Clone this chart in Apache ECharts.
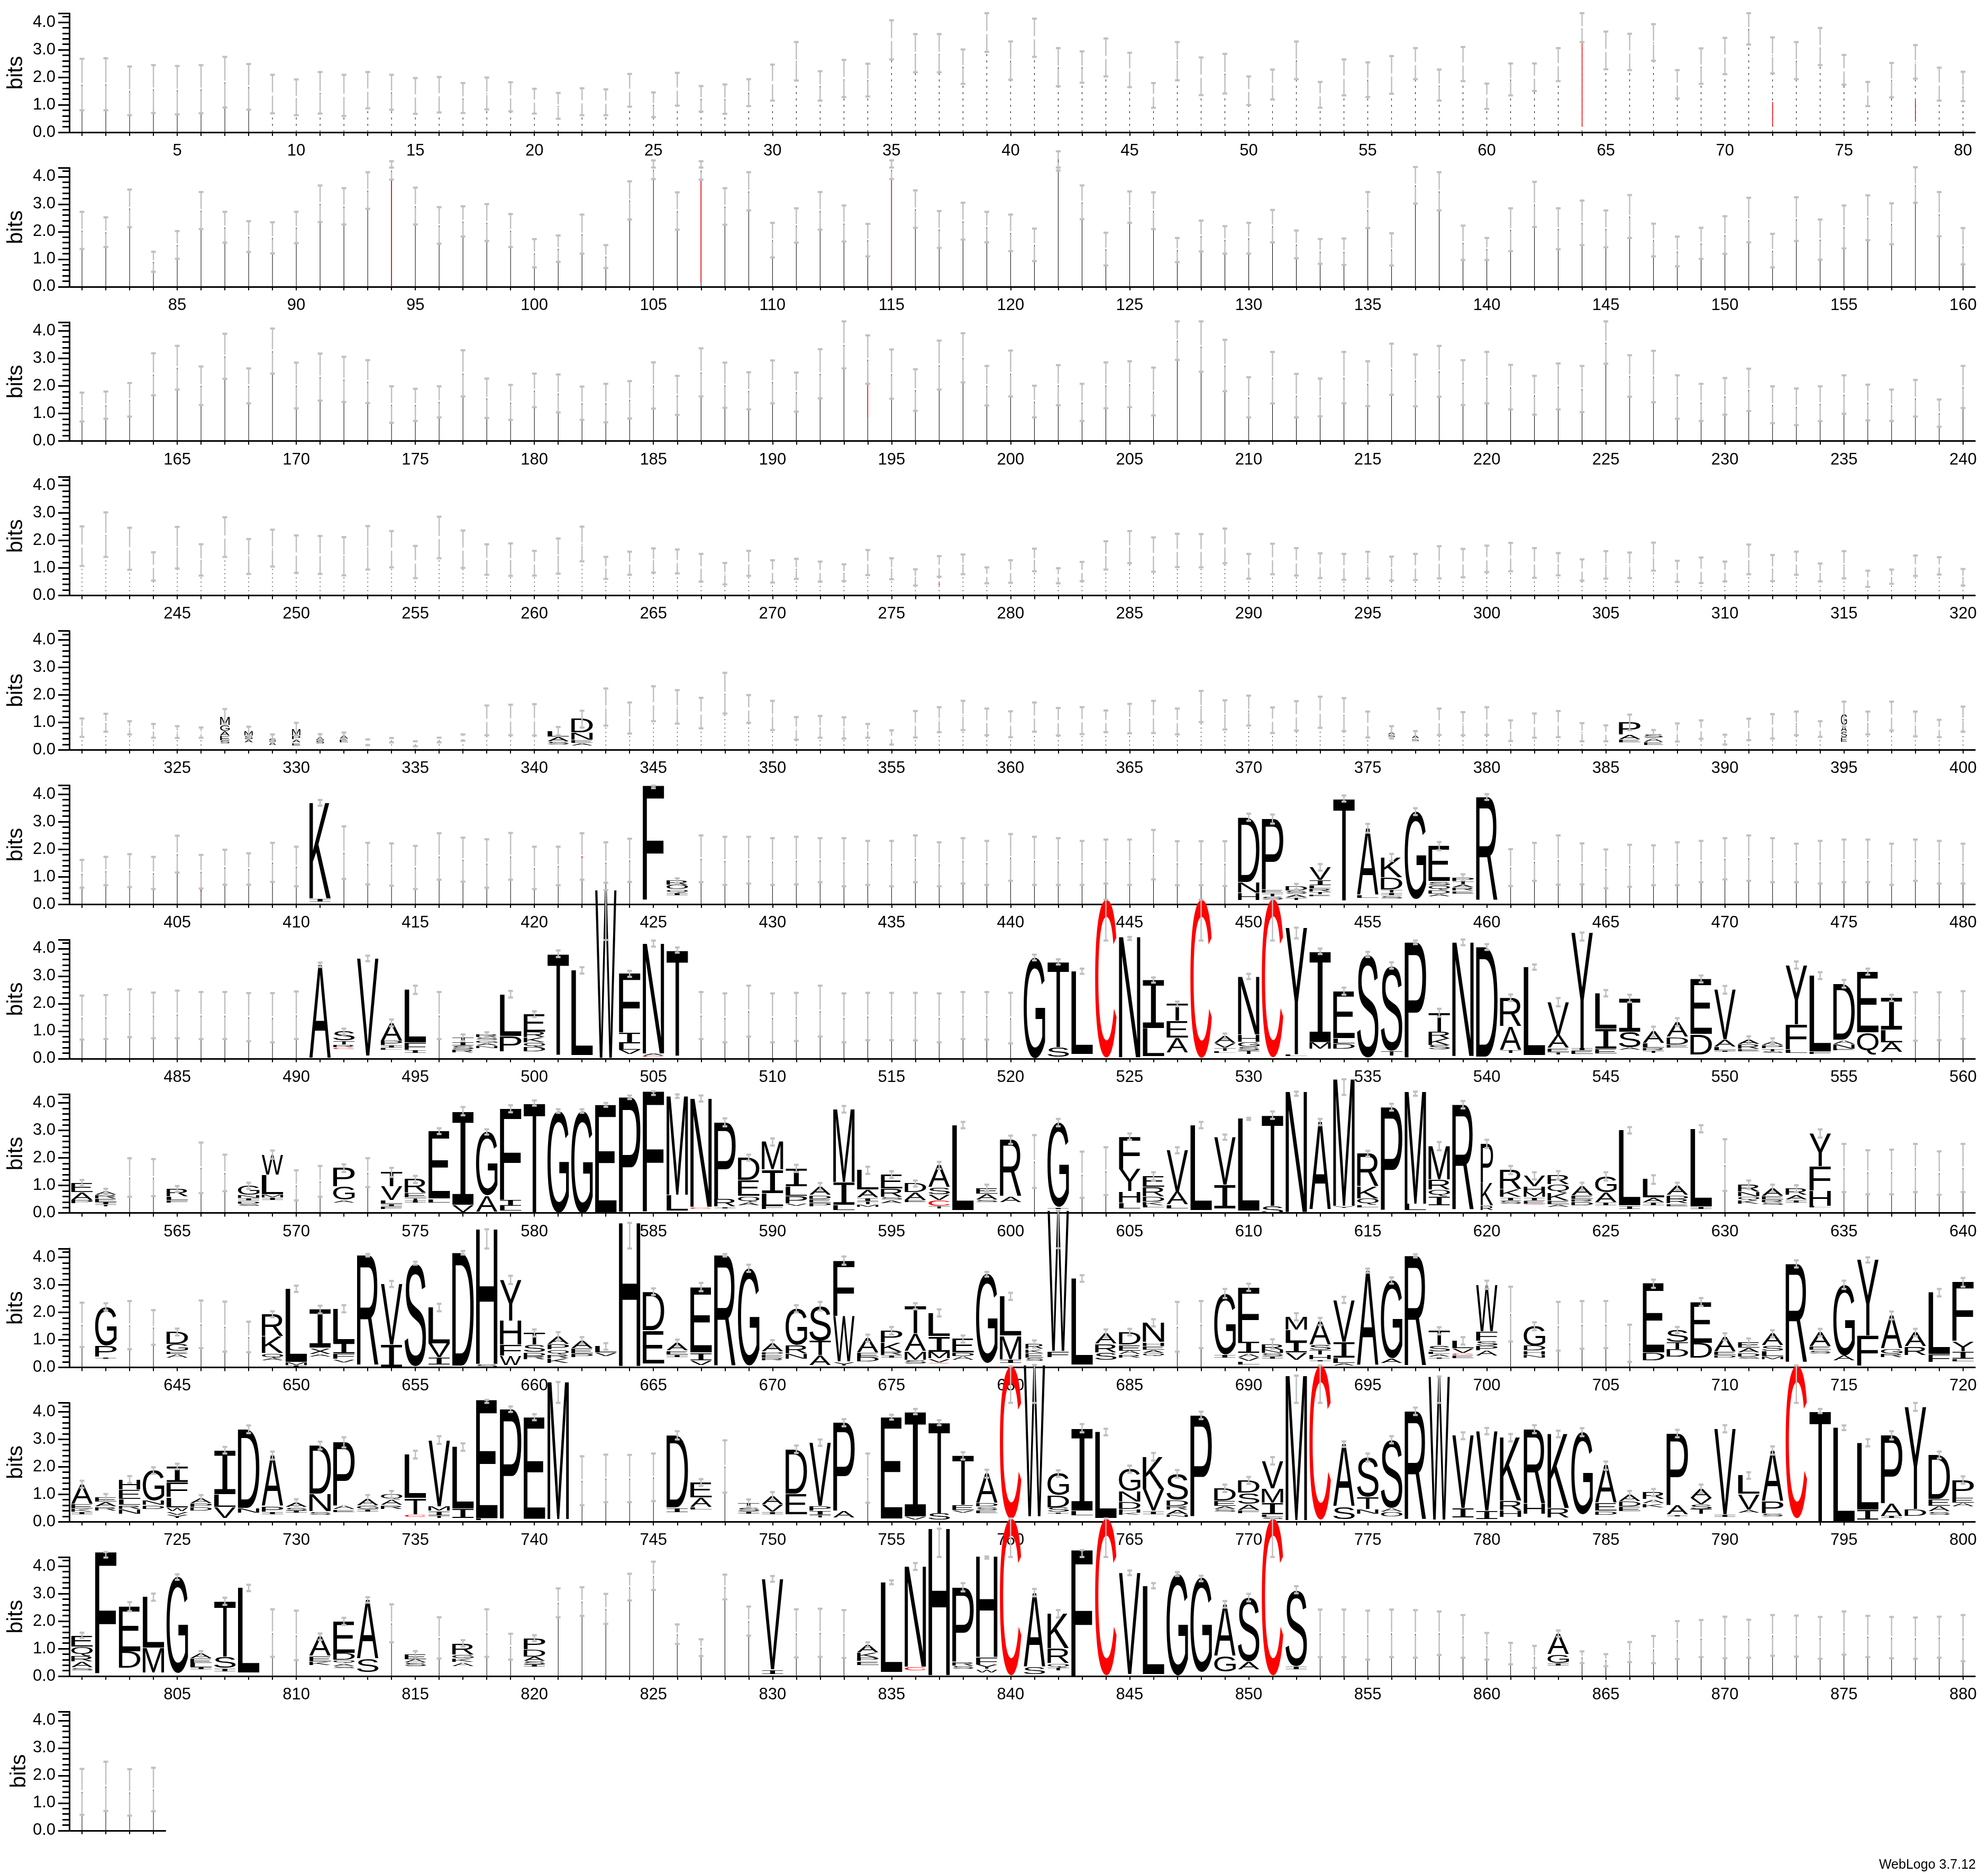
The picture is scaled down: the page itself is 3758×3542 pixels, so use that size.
<!DOCTYPE html>
<html><head><meta charset="utf-8">
<style>html,body{margin:0;padding:0;background:#fff}#c{width:3758px;height:3542px}</style>
<script src="https://cdn.jsdelivr.net/npm/echarts@6/dist/echarts.min.js"></script>
</head><body><div id="c"></div>
<script>
const hi1=[2.67,2.69,2.39,2.44,2.41,2.44,2.74,2.48,2.09,1.92,2.19,2.09,2.19,2.09,1.97,2.01,1.79,1.99,1.82,1.58,1.43,1.6,1.56,2.12,1.45,2.16,1.68,1.74,1.93,2.46,3.28,2.22,2.63,2.49,4.07,3.57,3.57,3.01,4.33,3.3,4.13,3.06,2.94,3.41,2.89,1.79,3.28,2.72,2.85,2.03,2.28,3.3,1.83,2.65,2.54,2.77,3.06,2.28,3.1,1.77,2.5,2.5,3.06,4.33,3.66,3.58,3.93,2.26,3.05,3.43,4.33,3.45,3.28,3.79,2.81,1.83,2.52,3.17,2.35,2.2];
const lo1=[.8,.8,.62,.7,.65,.69,.9,.82,.69,.62,.68,.59,.87,.82,.67,.72,.7,.83,.76,.68,.49,.62,.62,.93,.55,.97,.75,.67,.95,1.15,1.88,1.15,1.28,1.3,2.65,2.18,2.18,1.76,2.92,1.91,2.74,1.67,1.8,2.03,1.64,.89,1.89,1.35,1.41,.99,1.19,1.93,.89,1.34,1.28,1.4,1.93,1.15,1.86,.85,1.34,1.5,1.86,3.28,2.29,2.26,2.6,1.23,1.76,2.11,3.19,2.14,1.93,2.44,1.73,.95,1.27,1.95,1.15,1.13];
const hi2=[2.72,2.52,3.53,1.27,2.02,3.44,2.72,2.38,2.34,2.72,3.68,3.58,4.16,4.56,3.6,2.89,2.92,3,2.64,1.73,1.86,2.62,1.51,3.83,4.59,3.43,4.56,3.58,4.16,2.32,2.85,3.44,2.95,2.28,4.59,3.5,2.75,3.05,2.72,2.62,2.11,4.92,3.68,1.96,3.46,3.43,1.77,2.4,2.2,2.32,2.79,2.04,1.73,1.75,3.44,1.94,4.35,4.16,2.22,1.77,2.85,3.81,2.85,3.13,2.77,3.33,2.29,1.82,2.14,2.56,3.23,1.92,3.25,2.44,2.95,3.32,3.03,4.34,3.44,2.13];
const lo2=[1.37,1.44,2.16,.54,1.01,2.09,1.6,1.26,1.21,1.58,2.35,2.26,2.83,3.89,2.26,1.56,1.82,1.66,1.44,.7,.9,1.2,.68,2.44,3.91,2.07,3.89,2.25,2.77,1.06,1.6,2.07,1.64,1.1,3.91,2.14,1.41,1.71,1.61,1.29,.93,4.22,2.45,.77,2.32,2.09,.89,1.28,1.2,1.2,1.61,1.03,.83,.79,2.13,.77,3.02,2.77,.97,.97,1.29,2.17,1.36,1.51,1.43,1.77,1.1,.74,1.01,1.19,1.61,.7,1.66,.98,1.39,1.69,1.54,3.05,1.83,.81];
const hi3=[1.76,1.8,2.11,3.19,3.46,2.71,3.9,2.64,4.09,2.85,3.18,3.06,2.94,1.99,1.9,1.99,3.3,2.27,2.04,2.45,2.42,1.98,2.08,2.18,2.86,2.37,3.37,2.85,2.5,2.93,2.49,3.34,4.35,3.84,3.33,2.61,3.65,3.92,2.73,3.29,2.01,2.76,2.08,2.86,2.9,2.67,4.35,4.35,3.68,2.32,3.24,2.44,2.27,3.24,2.9,3.54,3.15,3.46,2.94,3.24,2.77,2.37,2.82,2.73,4.35,3.12,3.28,2.39,2.08,2.29,2.63,1.99,1.91,1.99,2.39,2.05,1.87,2.22,1.51,2.73];
const lo3=[.71,.81,.89,1.66,1.87,1.31,2.26,1.37,2.45,1.19,1.47,1.42,1.38,.66,.73,.86,1.62,.84,.77,1.23,1.04,.77,.68,.82,1.18,.95,1.62,1.21,1.15,1.37,1.07,1.55,2.64,2.08,1.54,1.1,1.87,2.13,1.29,1.62,.86,1.3,.73,1.19,1.23,.93,2.95,2.52,1.81,.86,1.37,.86,.9,1.37,1.27,1.68,1.26,1.61,1.31,1.37,1.15,.96,1.15,1.05,2.81,1.61,1.41,.81,.73,.96,1.09,.65,.58,.72,.99,.75,.73,.89,.52,1.2];
const hi4=[2.51,3.02,2.46,1.57,2.49,1.86,2.84,2.05,2.39,2.18,2.16,2.12,2.52,2.34,1.8,2.86,2.36,1.86,1.89,1.62,2.07,2.5,1.4,1.59,1.71,1.67,1.51,1.18,1.62,1.28,1.33,1.23,1.13,1.65,1.35,.95,1.43,1.49,1.02,1.28,1.7,.99,1.22,1.97,2.34,2.11,2.24,2.23,2.43,1.51,1.88,1.72,1.53,1.51,1.59,1.41,1.51,1.79,1.69,1.81,1.91,1.72,1.54,1.31,1.61,1.56,1.92,1.26,1.38,1.23,1.85,1.47,1.59,1.16,1.61,.9,.94,1.45,1.39,.96];
const lo4=[1.07,1.4,.93,.54,.98,.72,1.4,.78,1.05,.82,.78,.73,.94,1.02,.63,1.35,1,.75,.71,.72,.79,1.24,.6,.75,.83,.8,.5,.4,.71,.47,.6,.5,.52,.74,.59,.36,.68,.77,.44,.46,.88,.44,.52,.94,1.17,.86,1.03,1.02,1.17,.61,.77,.72,.63,.57,.61,.54,.56,.62,.66,.85,.88,.64,.73,.54,.61,.63,.9,.49,.45,.51,.77,.52,.75,.51,.62,.31,.42,.71,.76,.36];
const hi5=[1.14,1.31,1.04,.94,.86,.81,1.48,.84,.56,.98,.57,.63,.38,.43,.31,.44,.56,1.61,1.64,1.66,.83,1.42,2.23,1.72,2.31,2.17,1.89,2.8,1.99,1.78,1.19,1.23,1.18,.94,.71,1.41,1.55,1.78,1.5,1.4,1.72,1.52,1.55,1.43,1.67,1.78,1.5,2.14,1.8,1.97,1.54,1.77,1.93,1.88,1.39,.86,.68,1.5,1.37,1.55,1.07,1.32,1.41,.97,.89,1.28,.72,.96,1.07,.55,1.13,1.3,1.39,1.04,1.75,1.39,1.75,1.39,1.09,1.57];
const lo5=[.47,.66,.56,.44,.43,.44,.95,.51,.27,.51,.37,.41,.17,.27,.13,.27,.33,.53,.53,.52,.53,.81,.88,.59,1.04,.95,.78,1.32,.98,.72,.37,.44,.41,.44,.19,.45,.64,.72,.53,.46,.66,.52,.57,.64,.6,.61,.56,1.01,.74,.88,.61,.7,.8,.68,.45,.41,.36,.54,.53,.54,.32,.44,.46,.31,.31,.71,.4,.3,.4,.19,.35,.41,.53,.47,.85,.56,.7,.49,.46,.66];
const hi6=[1.61,1.72,1.82,1.72,2.49,1.79,1.98,1.85,2.23,2.09,3.79,2.83,2.23,2.21,2.12,2.58,2.42,2.36,2.59,2.09,2.09,2.58,2.25,2.38,4.31,.94,2.5,2.45,2.45,2.4,2.45,2.4,2.4,2.3,2.3,2.5,2.25,2.4,2.3,2.55,2.45,2.4,2.3,2.35,2.35,2.7,2.29,2.29,2.29,3.29,3.26,.74,1.46,3.95,2.92,1.83,3.49,2.26,1.09,4,2,2.23,2.5,2.21,1.99,2.16,2.14,2.25,2.3,2.4,2.5,2.4,2.2,2.3,2.35,2.35,2.2,2.35,2.3,2.2];
const lo6=[.6,.69,.62,.55,1.15,.57,.71,.71,.81,.65,3.58,.92,.72,.67,.55,.89,.82,.6,.89,.55,.69,.89,.78,.81,4.22,.76,.8,.7,.75,.7,.72,.8,.65,.7,.65,.8,.65,.75,.7,.85,.7,.7,.7,.75,.7,.9,.69,.69,.66,3.03,2.93,.53,1.22,3.73,2.6,1.57,3.24,1.96,.87,3.79,.66,.85,.71,.72,.58,.63,.69,.69,.8,.9,.85,.8,.8,.75,.8,.8,.7,.85,.75,.75];
const hi7=[2.29,2.31,2.52,2.4,2.47,2.42,2.42,2.38,2.38,2.44,3.49,1.09,3.74,1.42,2.65,2.42,.88,.96,2.46,1.72,3.93,3.32,6.13,3.19,4.29,4.04,2.42,2.37,2.65,2.37,2.39,2.65,2.37,2.39,2.39,2.39,2.37,2.42,2.42,2.39,3.78,3.61,3.27,5.78,4.42,2.95,2.07,5.78,.91,3.08,5.8,4.76,4,2.58,3.88,3.5,4.29,1.81,4.33,4.16,2.33,3.42,2.2,4.58,2.49,2.32,1.16,1.47,3.02,2.64,.81,.74,3.53,3.14,2.86,3.27,2.32,2.41,2.41,2.45];
const lo7=[.69,.71,.78,.74,.74,.71,.71,.63,.59,.71,3.33,.87,3.54,1.17,2.35,.71,.64,.78,2.22,1.51,3.69,3.09,4.31,2.97,4.07,3.85,.71,.59,.8,.59,.64,.8,.59,.67,.67,.66,.59,.71,.69,.55,3.57,3.42,3.08,4.29,4.31,2.76,1.9,4.29,.72,2.89,4.29,4.37,3.8,2.32,3.69,3.27,4.16,1.52,4.12,3.95,2.09,3.23,1.9,4.29,2.26,2.05,.8,1.18,2.77,2.36,.53,.49,3.27,2.89,2.58,3.05,2.09,.65,.67,.72];
const hi8=[1.2,.88,1.99,1.96,.98,2.56,2.12,1.1,2.27,1.55,1.71,1.77,1.99,1.64,1.35,3.08,3.85,3.04,3.92,4.09,3.77,3.77,4,4.27,4.42,4.31,4.27,3.44,2.12,2.71,1.75,1.09,3.89,1.68,1.52,1.18,1.86,3.31,1.03,2.81,2.83,3.42,2.23,2.39,2.89,1.48,2.39,3.31,2.85,3.46,3.69,4.41,3.42,4.86,2.26,3.97,4.41,2.58,4.07,2.66,1.71,1.48,1.52,1.1,1.48,3.12,1.37,1.1,3.19,2.68,1.18,1.03,1.01,3.04,2.51,2.28,2.3,2.51,2.24,2.51];
const lo8=[.98,.66,.59,.61,.76,.72,.79,.87,1.97,.46,.59,1.49,.94,1.31,1.09,2.87,3.55,2.85,3.66,3.9,3.64,3.64,3.86,4.14,4.29,4.18,4.05,3.15,1.9,2.45,1.49,.83,3.65,1.42,1.27,.96,1.6,3.08,.79,2.51,.91,3.15,.55,.65,2.66,1.18,2.17,3.08,2.66,3.38,3.42,4.26,3.19,4.29,2.05,3.72,4.26,2.28,3.8,2.36,1.41,1.22,1.22,.84,1.18,2.89,1.06,.84,2.93,.8,.87,.76,.76,2.74,.76,.68,.68,.76,.66,.76];
const hi9=[2.35,2.33,2.41,2.08,1.41,2.43,2.39,1.66,2.04,2.97,2.24,2.26,4.12,3.14,3.84,2.31,4.23,5.02,3.33,1.38,1.28,1.1,.88,5.25,2.87,1.01,3.07,4.12,3.73,.99,2.26,2.38,4.03,1.19,1.47,2.33,2.11,1.16,3.47,2.71,.98,5.7,3.35,1.38,1.4,1.75,2.38,2.41,2.85,3.04,1.02,1.97,1.8,2.56,3.59,3.27,4.11,1.46,1.1,3.15,2.93,1.64,2.38,2.41,2.41,1.55,3.19,1.47,2.52,1.24,1.05,1.35,3.89,1.4,3.15,4,2.03,1.4,2.85,3.25];
const lo9=[.74,2.07,.66,.82,1.16,.7,.57,.55,1.82,2.74,1.96,2,4.03,2.92,3.73,2.04,4.1,4.32,3.03,1.12,.97,.86,.64,4.32,2.63,.75,2.77,4.03,3.47,.74,2,2.07,3.73,.93,1.19,2.11,1.85,.9,3.3,2.45,.72,4.33,3.11,1.09,1.16,1.49,.57,.7,2.52,2.78,.68,1.71,1.53,2.34,3.44,3.04,4,1.2,.83,2.85,.94,1.35,.61,.68,.7,.2,2.89,1.24,2.23,.98,.79,1.09,3.63,1.13,2.85,3.81,1.74,1.13,2.58,2.93];
const hi10=[1.49,1.01,1.66,1.98,2.11,.97,2.72,3.5,2.55,.82,2.91,3.07,.97,1.12,2.58,3.11,2.85,4.43,4.19,3.91,5.08,2.38,2.44,2.43,2.48,3.29,1.55,2.96,.81,1.08,2.77,2.99,3.73,2.48,3.89,4.1,3.69,2.53,1.89,5.65,5.7,1.87,3.55,3.38,2.04,2.5,1.88,4,1.35,1.63,2.35,5.31,5.68,2.92,2.48,3.11,4.15,5.28,3.25,3.41,3.19,3.51,3.31,3.4,2.19,1.12,1.19,3.34,1.35,3.51,1.8,2.74,5.68,4.1,3.5,3,3.29,4.32,2.55,1.65];
const lo10=[1.23,.75,1.41,1.74,1.91,.74,2.48,3.22,2.26,.57,2.63,2.7,.68,.86,2.3,2.83,2.58,4.32,3.99,3.69,4.32,.6,.71,.71,.75,2.99,1.3,1.06,.55,.79,2.5,2.76,3.47,.69,3.71,3.91,3.51,2.26,1.6,4.32,4.32,1.63,3.25,3.14,1.78,2.22,1.6,3.73,1.08,1.38,2.08,4.32,4.32,2.72,2.19,2.85,3.88,4.32,3,3.18,2.92,3.22,3.07,3.11,1.89,.82,.93,3.07,1.04,3.25,1.56,2.44,4.32,3.95,3.33,2.74,2.99,4.03,2.3,1.38];
const hi11=[1.58,4.51,2.69,3,3.7,.91,2.85,3.32,2.43,2.38,1.55,2.12,2.87,2.61,.91,2.14,1.31,2.43,1.54,1.49,3.19,3.23,2.99,3.72,4.16,1.88,1.34,3.69,2.53,3.64,2.43,2.45,2.4,1.23,3.48,4.11,5.36,3.38,4.35,5.73,3.17,2.4,4.58,5.73,3.84,3.38,3.78,3.65,2.73,2.99,5.73,3.27,2.42,2.42,2.38,2.42,2.4,2.35,2.22,1.57,1.21,1.1,1.66,.9,.8,1.24,1.46,2,2.04,2.16,2.05,2.22,2.2,2.15,2.35,2.19,2.15,2.13,2.16,2.22];
const lo11=[1.38,4.31,2.36,2.74,3.5,.7,2.59,3.09,.7,.58,1.31,1.86,2.67,1.23,.66,.64,1.07,.7,.6,1.27,2.14,2.19,1.9,2.75,3.13,1.17,.73,2.79,1.47,3.43,.68,.7,.66,1.05,3.34,3.86,4.33,3.08,4.27,4.33,2.9,2.13,4.33,4.33,3.67,3.19,3.64,3.45,2.49,2.72,4.33,3.01,.69,.69,.6,.69,.67,.77,.67,.6,.43,.3,1.43,.47,.36,.51,.47,.62,.69,.65,.67,.74,.71,.63,.78,.69,.65,.63,.67,.54];
const hi12=[2.24,2.5,2.23,2.28];
const lo12=[.57,.71,.54,.7];
const overflowCapPositions=[94,105,107,115,122];
const overflowCapBits=4.33;
const stacks5={327:'M.3 G.2 A.15 E.15 S.1',328:'M.15 S.12 A.1',329:'S.12 A.1',330:'M.22 P.12 A.1 E.08',331:'A.12 S.1',332:'A.12 E.1',341:'L.2 A.14 S.1',342:'D.48 N.24 E.1 A.08',376:'A.08 S.08',377:'A.1 S.08',386:'P.44 A.15 E.1',387:'S.12 A.12 E.1',395:'G.4 A.2 S.2 E.15'};
const stacks6={411:'K3.47 I.1',425:'F4.14',426:'R.14 O.14 Q.1 I.08',450:'D2.35 N.37 H.24',451:'P2.56 E.1 T.1 S.1',452:'D.14 S.1 A.1 T.08',453:'V.46 I.16 L.1 R.1 T.08 E.05',454:'T3.7',455:'A2.41 L.1',456:'K.72 D.42 T.1 I.08 S.08',457:'G3.18',458:'E1.27 S.13 Q.15 D.12 A.08',459:'P.13 T.1 A.1 R.1 E.08',460:'R3.76'};
const stacks7={491:'A3.4',492:'S.32 T.13 R.08 C.05',493:'V3.53',494:'A.64 P.14 I.08 L.05',495:'L1.91 F.25 I.1',497:'T.14 I.12 S.12 R.1',498:'R.09 S.08 G.08 A.08 N.07',499:'L1.51 P.55',500:'E.63 R.19 K.16 Q.15 D.14',501:'T3.67',502:'L3.07',503:'W6.1',504:'F2.13 I.37 L.21 V.15',505:'N3.99 A.06 C.04',506:'T3.84',521:'G3.66',522:'T3.1 S.33',523:'L3',524:'C5.74',525:'N4.37',526:'I1.75 L1',527:'T.61 E.59 A.53',528:'C5.75',529:'A.24 V.15 T.1 L.05',530:'N2.1 H.25 G.15 S.12 T.12',531:'C5.75',532:'Y4.6 L.05',533:'I3.3 M.22',534:'E1.71 L.17 D.17',535:'S3.74',536:'S3.1 T.15',537:'P4.18',538:'T.68 R.24 K.21 S.14',539:'N4.13',540:'D3.98',541:'R1.02 A.85 T.1',542:'L3.2',543:'V1.18 A.46 E.12 T.08',544:'Y4.2 I.06 E.12',545:'L1.28 I.72 E.14',546:'I1.2 S.55 A.08',547:'A.41 L.15 R.08 T.07',548:'A.53 D.25 E.1',549:'E2 D.72',550:'V1.79 A.25 L.11 I.05',551:'A.14 R.15 E.08',552:'A.12 P.1 T.08 S.05',553:'Y2.15 F.88 L.13',554:'L2.75 F.08',555:'D2.03 A.13 N.15 E.05',556:'E2.2 Q.8',557:'I1.16 L.43 A.34'};
const stacks8={561:'E.33 A.26 P.11',562:'A.11 R.11 E.11 I.06 T.05',565:'R.26 L.11 F.08',568:'G.32 N.1 I.08 D.08 S.06',569:'W.72 L.69 M.1 I.07',572:'P.65 G.48 A.08',574:'T.51 V.48 L.11 I.08 F.06',575:'R.49 E.15 T.08 I.06',576:'E2.45 L.13',577:'I3.4 V.25',578:'G2.3 A.57',579:'F3.3 I.2 L.16',580:'T4',581:'G3.7',582:'G3.72',583:'E3.9',584:'P4.16',585:'F4.36',586:'M3.58 L.56',587:'N3.93 C.06',588:'P2.78 R.26 I.05',589:'D.8 E.57 Q.2 A.1',590:'M1 I.83 L.44 F.11',591:'I.65 L.33 P.24 V.07',592:'A.3 D.13 E.11 P.11',593:'M2.64 I.81 L.18',594:'L.7 A.27 I.1 T.1 M.07',595:'E.5 R.29 S.08 A.1',596:'D.31 A.26 E.07',597:'A.79 S.24 V.19 C.19 T.07',598:'L3.08',599:'E.2 A.2 S.08',600:'R2.05 A.2',602:'G3.06 I.05',605:'F1.16 Y.8 H.4 L.19',606:'E.38 R.32 D.17 K.11 L.06',607:'V1.49 A.46 L.12',608:'L3.08',609:'V1.72 I.85',610:'L3.34',611:'T3.29 S.26',612:'N4.37',613:'A3.19',614:'M4.6 Y.05',615:'R1.18 K.42 Q.21 L.08',616:'P3.73',617:'M4.07 L.22',618:'M1.21 R.34 Q.23 I.3',619:'R3.82',620:'P1.41 K.8 R.15',621:'R.69 K.27 I.1 S.11',622:'V.38 H.19 M.16 I.1 E.1 C.03',623:'R.32 Q.29 K.27 E.11 A.08',624:'A.32 E.11 R.08 D.11',625:'G.57 A.34 I.1',626:'L2.73 I.1',627:'L.65 A.15 I.1',628:'A.31 D.13 R.14 E.08',629:'L2.82 I.08',631:'R.24 N.15 Q.12 K.11',632:'A.27 E.11 R.08 S.08',633:'R.23 A.15 I.08',634:'Y1.18 F.87 H.53 L.05'};
const stacks9={642:'G1.4 P.39 I.05',645:'D.43 G.24 E.08 A.12',649:'R.8 K.59 Q.15 A.08',650:'L2.65 M.1 I.08',651:'I1.39 X.2 A.08',652:'L1.23 I.37 F.18 V.1',653:'R4',654:'V2.19 I.81',655:'S3.74',656:'L1.3 V.49 I.25',657:'D4.1',658:'H4.89 S.1',659:'Y1.48 H.85 F.38 W.33',660:'T.41 S.25 D.13 R.11',661:'A.28 P.17 Q.15 R.13 K.15',662:'A.28 E.18 P.11',663:'L.22 V.11',664:'H5.2',665:'D1.39 E1.19',666:'A.26 E.13 I.08',667:'E2.37 I.27 V.15',668:'R4.03',669:'G3.53',670:'A.29 P.08 E.1 R.08',671:'G1.31 R.3 N.16',672:'S1.25 T.51 A.35',673:'F2 W1.65 Y.13',674:'A.51 E.15 D.15',675:'P.41 K.33 R.11 I.06',676:'T.99 A.62 M.29 S.12',677:'L.84 I.55 M.22 V.12 C.03',678:'E.48 D.12 A.12',679:'G3.24',680:'L1.42 M.84 I.12',681:'R.18 K.13 E.15 S.1',682:'W5.1 F.2',683:'L3.12',684:'A.37 R.3 S.26',685:'D.45 E.2 A.11 R.1',686:'N.69 H.13 E.11 A.1 Q.1',689:'G2.21 I.1',690:'F1.98 I.39 A.13 V.12 L.1',691:'R.2 N.11 S.09 I.07',692:'M.46 L.42 I.38 V.24',693:'A.83 S.18 T.15 H.15 I.05',694:'V1.51 I.57 L.17 A.08',695:'A3.44',696:'G2.83 A.15',697:'R4',698:'T.52 S.2 L.08 A.08 I.05',699:'L.26 V.15 C.06 E.1',700:'W1.68 F.33 S.15 P.15 A.18',702:'G.7 D.16 H.13 N.1',707:'E2.5 D.26',708:'S.43 T.24 D.26',709:'E1.48 D.53',710:'A.52 E.12 D.08',711:'E.2 A.15 D.13 S.06',712:'A.41 S.18 L.18 M.1',713:'R3.58',714:'A.5 E.11 S.11',715:'G2.56 A.17',716:'Y2.75 F1.07',717:'A1.2 G.16 R.11',718:'A.5 R.29',719:'L2.23 F.27',720:'F2.13 Y.35 I.26 L.07'};
const stacks10={721:'A.7 E.15 K.1 I.08',722:'E.15 A.15 R.13',723:'H.35 E.33 L.2 R.13 N.15',724:'G1.08 N.14 D.13',725:'I.57 F.52 L.35 W.13 V.1 Y.11',726:'A.17 P.13 D.11',727:'I1.59 L.44 V.4',728:'D2.86 N.15',729:'A1.84 P.17 I.08',730:'A.15 S.11 I.06',731:'D1.74 N.62 S.11',732:'P2.28 A.13 E.08',733:'A.22 G.13 I.06',734:'Q.18 A.18 R.12',735:'L1.57 T.58 C.08',736:'V2.4 M.15 I.15 T.08',737:'L2.23 I.32',738:'E4.3 L.05',739:'P3.97',740:'E3.69',741:'M4.98',746:'D2.62 I.15',747:'E.53 A.33 L.07',749:'T.15 S.12 I.08',750:'A.3 V.24 I.08',751:'D1.61 E.74',752:'V2.3 P.14 I.15 T.07',753:'P3.2 A.22',755:'E3.68',756:'I3.81 V.1',757:'T3.29 S.22',758:'T1.78 E.17 V.08',759:'A1.06 D.11 S.1 E.1',760:'C5.55',761:'W5.5',762:'G.78 D.42 S.15 I.05',763:'I2.99 L.15',764:'L3.12',765:'G.79 N.37 D.24 H.11 K.07',766:'K1.16 V.78 I.1',767:'S.94 D.19 R.12 A.15 N.08',768:'P3.66',769:'D.44 E.18 A.09 S.08',770:'D.44 S.39 A.2 F.1',771:'V.99 M.5 I.41 L.08 S.05',772:'M5.25',773:'C5.6',774:'A2.26 S.44',775:'S1.43 T.42 N.15',776:'S2.47 A.12 O.16',777:'R3.94',778:'W5.2',779:'V2.63 I.32',780:'V2.89 I.28',781:'K2.28 R.33 H.22',782:'R2.7 H.36',783:'K2.69 R.33',784:'G2.98',785:'A1.36 E.26 D.12',786:'A.22 D.17 E.15',787:'R.24 A.13 K.12',788:'P2.59 A.33 I.05',789:'A.32 V.21 S.16 T.16',790:'V3.11 I.07',791:'L.66 V.55 A.1',792:'A1.84 P.42 S.1',793:'C5.55',794:'T4',795:'L3.39',796:'L2.42 I.35',797:'P2.46 A.44 I.07',798:'Y3.71 D.22',799:'D1.6 E.22 A.18 S.11',800:'P.64 E.16 A.11'};
const stacks11={801:'E.4 Q.31 R.19 A.2 S.08',802:'F4.4',803:'E1.62 D.58',804:'L1.84 M.88',805:'G3.49',806:'A.16 E.14 L.14 I.06',807:'T2 S.4 I.1',808:'L3.07',811:'A.69 E.18 K.12',812:'E1.14 D.24 Q.1 A.08 S.06',813:'A2.13 S.47',815:'E.16 A.11 S.12',817:'R.4 G.12 K.12 A.12',820:'P.4 D.24 A.14 S.12 I.06',830:'V3.28 I.15',834:'A.28 K.16 P.11 E.12',835:'L3.26',836:'N3.64 C.12',837:'H5.32',838:'P2.69 R.13 S.1',839:'H3.65 F.25 Y.15 W.1',840:'C5.7',841:'A2.69 S.25',842:'K1.25 R.52 Q.13 T.1',843:'F4.56',844:'C5.7',845:'V3.68',846:'L3.2',847:'G3.68',848:'G3.41',849:'A1.87 G.55',850:'S2.32 A.26',851:'C5.7',852:'S2.77 I.1',863:'A.74 G.3 I.08'};
const occupancy={327:.4,328:.35,329:.3,330:.35,331:.35,332:.35,376:.3,377:.3,387:.8,395:.25,620:.52,681:.75};
const redTraces={64:[.2,3.4],72:[.2,1.1],78:[.38,1.15],94:[0,3.96],107:[.15,3.96],115:[0,3.96],194:[.86,2.92],277:[.36,.45],406:[.45,.55],422:[1.6,1.75]};
const hiRows=[hi1,hi2,hi3,hi4,hi5,hi6,hi7,hi8,hi9,hi10,hi11,hi12];
const loRows=[lo1,lo2,lo3,lo4,lo5,lo6,lo7,lo8,lo9,lo10,lo11,lo12];
const stackRows=[{},{},{},{},stacks5,stacks6,stacks7,stacks8,stacks9,stacks10,stacks11,{}];
const yTickMajor=1, yMax=4.32, perRow=80;

const bitPx=52, rowStep=291.8, firstBase=250, leftEdge=132.5, bandPx=45.01;
const sans='"Liberation Sans"', mono='"Liberation Mono"';
const mc=document.createElement('canvas').getContext('2d');
const inkCache={};
function ink(L){
  if(inkCache[L])return inkCache[L];
  const family=L==='I'?mono:sans;
  mc.font='200px '+family; mc.textAlign='left'; mc.textBaseline='middle';
  const m=mc.measureText(L);
  return inkCache[L]={font:'200px '+family,left:-m.actualBoundingBoxLeft,right:m.actualBoundingBoxRight,top:-m.actualBoundingBoxAscent,bottom:m.actualBoundingBoxDescent};
}
function stackTop(h,l){return l>=4.2?h:(h+l)/2;}
function parseStack(s){return s.split(' ').map(t=>({L:t[0],h:parseFloat(t.slice(1))}));}

function buildRow(r){
  const hi=hiRows[r],lo=loRows[r],st=stackRows[r],n=hi.length,first=r*perRow+1;
  const letters=[],thin=[],bars=[];
  for(let i=0;i<n;i++){
    const pos=first+i,top=stackTop(hi[i],lo[i]),s=st[pos];
    bars.push({v:[i,lo[i],hi[i]],isThin:!s,extra:overflowCapPositions.includes(pos)});
    if(s){
      let y=top;
      parseStack(s).forEach(p=>{
        letters.push({v:[i,y-p.h,y],L:p.L,frac:(occupancy[pos]||.9)});
        y-=p.h+.02;
      });
    }else{
      thin.push({v:[i,0,top],red:redTraces[pos]||null,dash:(r===0&&i>=8)?[4,8]:((r===3||r===4)?[2,6]:null)});
    }
  }
  return {letters,thin,bars};
}
function letterSeries(items,g){return{type:'custom',xAxisIndex:g,yAxisIndex:g,clip:false,silent:true,z:3,animation:false,
  data:items.map(d=>d.v),encode:{x:0,y:[1,2]},
  renderItem(p,api){
    const d=items[p.dataIndex],c=api.coord([d.v[0],d.v[2]]),b=api.coord([d.v[0],d.v[1]]);
    const w=api.size([1,0])[0]*d.frac,h=b[1]-c[1],g0=ink(d.L);
    const sx=w/(g0.right-g0.left),sy=h/(g0.bottom-g0.top);
    return{type:'text',x:c[0]-w/2-g0.left*sx,y:c[1]-g0.top*sy,scaleX:sx,scaleY:sy,silent:true,
      style:{text:d.L,font:g0.font,fill:d.L==='C'?'#ff0000':'#000000',align:'left',verticalAlign:'middle',x:0,y:0}};
  }};}
function thinSeries(items,g){return{type:'custom',xAxisIndex:g,yAxisIndex:g,clip:false,silent:true,z:2,animation:false,
  data:items.map(d=>d.v),encode:{x:0,y:[1,2]},
  renderItem(p,api){
    const d=items[p.dataIndex],a=api.coord([d.v[0],d.v[1]]),b=api.coord([d.v[0],d.v[2]]);
    const ch=[{type:'line',shape:{x1:a[0],y1:a[1],x2:b[0],y2:b[1]},style:{stroke:'#000',lineWidth:1,lineDash:d.dash||undefined}}];
    if(d.red){const q=api.coord([d.v[0],d.red[0]]),t=api.coord([d.v[0],d.red[1]]);
      ch.push({type:'line',shape:{x1:q[0],y1:q[1],x2:t[0],y2:t[1]},style:{stroke:'#ff0000',lineWidth:1.5}});}
    return{type:'group',children:ch};
  }};}
function barSeries(items,g){return{type:'custom',xAxisIndex:g,yAxisIndex:g,clip:false,silent:true,z:4,animation:false,
  data:items.map(d=>d.v),encode:{x:0,y:[1,2]},
  renderItem(p,api){
    const d=items[p.dataIndex],lo=api.coord([d.v[0],d.v[1]]),hi=api.coord([d.v[0],d.v[2]]),x=lo[0];
    const fill={fill:'#c0c0c0'},ch=[];
    const seg=(y0,y1)=>ch.push({type:'rect',shape:{x:x-1.25,y:y0,width:2.5,height:y1-y0},style:fill});
    if(d.isThin){const m=(lo[1]+hi[1])/2;seg(hi[1],m-3);seg(m+3,lo[1]);}else seg(hi[1],lo[1]);
    const cap=y=>ch.push({type:'rect',shape:{x:x-4.5,y:y-2,width:9,height:4},style:fill});
    cap(hi[1]);cap(lo[1]);
    if(d.extra)cap(api.coord([d.v[0],overflowCapBits])[1]);
    return{type:'group',children:ch};
  }};}

const grid=[],xAxis=[],yAxis=[],series=[];
hiRows.forEach((h,r)=>{
  const base=firstBase+rowStep*r,first=r*perRow+1;
  grid.push({left:leftEdge,top:base-yMax*bitPx,width:bandPx*h.length,height:yMax*bitPx,containLabel:false,outerBoundsMode:'none'});
  xAxis.push({type:'category',gridIndex:r,boundaryGap:true,data:h.map((_,i)=>String(first+i)),
    axisLine:{show:true,onZero:false,lineStyle:{color:'#000',width:3}},
    axisTick:{show:true,alignWithLabel:true,interval:0,length:7,lineStyle:{color:'#000',width:2}},
    axisLabel:{show:true,margin:20,interval:(i,v)=>(+v)%5===0,color:'#000',fontFamily:'Liberation Sans',fontSize:31,hideOverlap:false},
    splitLine:{show:false}});
  yAxis.push({type:'value',gridIndex:r,min:0,max:yMax,interval:yTickMajor,offset:1.5,
    name:'bits',nameLocation:'middle',nameRotate:90,nameGap:74,nameTextStyle:{color:'#000',fontFamily:'Liberation Sans',fontSize:41},
    axisLine:{show:true,lineStyle:{color:'#000',width:3}},
    axisTick:{show:true,length:21,lineStyle:{color:'#000',width:3}},
    minorTick:{show:true,splitNumber:5,length:13,lineStyle:{color:'#000',width:3}},
    axisLabel:{show:true,margin:26,formatter:v=>v.toFixed(1),color:'#000',fontFamily:'Liberation Sans',fontSize:31},
    splitLine:{show:false},minorSplitLine:{show:false}});
  const b=buildRow(r);
  series.push(thinSeries(b.thin,r),letterSeries(b.letters,r),barSeries(b.bars,r));
});
const chart=echarts.init(document.getElementById('c'),null,{renderer:'canvas',width:3758,height:3542});
chart.setOption({animation:false,backgroundColor:'#fff',grid,xAxis,yAxis,series,
  graphic:[{type:'text',right:23,top:3513,silent:true,style:{text:'WebLogo 3.7.12',font:'25px "Liberation Sans"',fill:'#000'}}]});
</script></body></html>
